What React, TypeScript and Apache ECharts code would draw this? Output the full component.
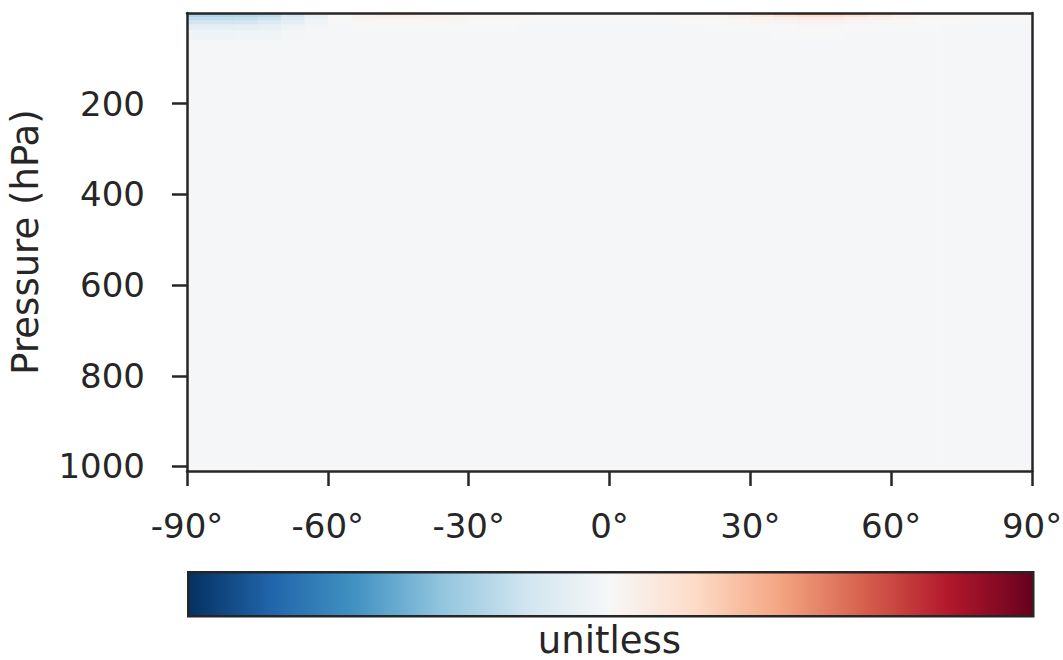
import React, { useEffect, useRef } from "react";
import * as echarts from "echarts";

// ---- data ----
const latEdgesFine = [-90, -85, -80, -75, -70, -65, -60, -55, -50, -45, -40, -35, -30, -25, -20, -15, -10, -5, 0, 5, 10, 15, 20, 25, 30, 35, 40, 45, 50, 55, 60, 65, 70, 75, 80, 85, 90];
const latEdgesCoarse = [-90, -80, -70, -60, -50, -40, -30, -20, -10, 0, 10, 20, 30, 40, 50, 60, 70, 80, 90];

const upperLevelEdges = [0, 4, 9, 16, 25, 38, 60];
const lowerLevelEdges = [60, 150, 300, 500, 650, 800, 900, 1010];

const upperRow0 = [-0.42, -0.42, -0.4, -0.36, -0.26, -0.12, 0.03, 0.1, 0.12, 0.13, 0.11, 0.09, 0.07, 0.05, 0.03, 0.02, 0.02, 0.02, 0.02, 0.02, 0.03, 0.04, 0.06, 0.1, 0.2, 0.36, 0.46, 0.46, 0.38, 0.24, 0.12, 0.07, 0.05, 0.04, 0.04, 0.04];
const upperRow1 = [-0.3, -0.3, -0.29, -0.26, -0.18, -0.08, 0.01, 0.05, 0.06, 0.06, 0.05, 0.04, 0.03, 0.02, 0.01, 0.01, 0.01, 0.01, 0.01, 0.01, 0.01, 0.02, 0.03, 0.05, 0.09, 0.14, 0.18, 0.18, 0.14, 0.09, 0.05, 0.03, 0.02, 0.01, 0.01, 0.01];
const upperRow2 = [-0.25, -0.25, -0.24, -0.21, -0.14, -0.06, 0, 0.03, 0.03, 0.03, 0.03, 0.02, 0.01, 0.01, 0, 0, 0, 0, 0, 0, 0, 0.01, 0.01, 0.02, 0.04, 0.06, 0.07, 0.07, 0.05, 0.04, 0.02, 0.01, 0.01, 0, 0, 0];
const upperRow3 = [-0.19, -0.19, -0.18, -0.15, -0.1, -0.04, -0.01, 0.01, 0.01, 0.01, 0.01, 0.01, 0, 0, 0, 0, 0, 0, 0, 0, 0, 0, 0, 0.01, 0.02, 0.02, 0.03, 0.03, 0.02, 0.01, 0.01, 0, 0, 0, 0, 0];
const upperRow4 = [-0.1, -0.1, -0.09, -0.08, -0.05, -0.02, -0.01, 0, 0, 0, 0, -0.005, -0.005, -0.005, -0.01, -0.01, -0.01, -0.01, -0.01, -0.01, -0.01, -0.01, -0.005, -0.005, 0, 0, 0.005, 0.005, 0, -0.005, -0.005, -0.005, -0.01, -0.01, -0.01, -0.01];
const upperRow5 = [-0.04, -0.04, -0.035, -0.03, -0.02, -0.012, -0.01, -0.008, -0.008, -0.008, -0.008, -0.008, -0.01, -0.01, -0.01, -0.01, -0.01, -0.01, -0.01, -0.01, -0.01, -0.01, -0.01, -0.008, -0.008, -0.005, -0.005, -0.005, -0.008, -0.008, -0.01, -0.01, -0.01, -0.01, -0.01, -0.01];

const lowerRow0 = [-0.012, -0.01, -0.009, -0.008, -0.008, -0.009, -0.009, -0.008, -0.008, -0.008, -0.009, -0.009, -0.01, -0.009, -0.009, -0.01, -0.01, -0.01];
const lowerRow1 = [-0.01, -0.009, -0.009, -0.009, -0.008, -0.009, -0.009, -0.009, -0.008, -0.009, -0.009, -0.009, -0.01, -0.009, -0.01, -0.009, -0.01, -0.01];
const lowerRow2 = [-0.009, -0.009, -0.009, -0.009, -0.009, -0.009, -0.009, -0.009, -0.009, -0.009, -0.009, -0.009, -0.012, -0.009, -0.012, -0.009, -0.01, -0.01];
const lowerRow3 = [-0.009, -0.009, -0.009, -0.009, -0.009, -0.009, -0.008, -0.009, -0.009, -0.009, -0.009, -0.009, -0.01, -0.012, -0.009, -0.012, -0.01, -0.01];
const lowerRow4 = [-0.01, -0.009, -0.009, -0.009, -0.009, -0.009, -0.009, -0.009, -0.008, -0.009, -0.009, -0.009, -0.012, -0.01, -0.009, -0.01, -0.01, -0.01];
const lowerRow5 = [-0.012, -0.009, -0.009, -0.008, -0.008, -0.009, -0.009, -0.009, -0.008, -0.008, -0.009, -0.009, -0.01, -0.01, -0.008, -0.008, -0.009, -0.01];
const lowerRow6 = [-0.012, -0.01, -0.009, -0.009, -0.008, -0.008, -0.009, -0.009, -0.009, -0.008, -0.009, -0.009, -0.009, -0.01, -0.009, -0.009, -0.01, -0.01];

const upperRows = [upperRow0, upperRow1, upperRow2, upperRow3, upperRow4, upperRow5];
const lowerRows = [lowerRow0, lowerRow1, lowerRow2, lowerRow3, lowerRow4, lowerRow5, lowerRow6];

const pressureTicks = [200, 400, 600, 800, 1000];
const colorbarColors = ["#053061", "#2166ac", "#4393c3", "#92c5de", "#d1e5f0", "#f7f7f7", "#fddbc7", "#f4a582", "#d6604d", "#b2182b", "#67001f"];
const vMin = -1;
const vMax = 1;
const yAxisName = "Pressure (hPa)";
const colorbarLabel = "unitless";

function buildCells() {
  const cells: number[][] = [];
  upperRows.forEach((row, r) => {
    row.forEach((v, c) => {
      cells.push([latEdgesFine[c], latEdgesFine[c + 1], upperLevelEdges[r], upperLevelEdges[r + 1], v]);
    });
  });
  lowerRows.forEach((row, r) => {
    row.forEach((v, c) => {
      cells.push([latEdgesCoarse[c], latEdgesCoarse[c + 1], lowerLevelEdges[r], lowerLevelEdges[r + 1], v]);
    });
  });
  return cells;
}

const FONT = "DejaVu Sans";
const INK = "#262626";

export default function App() {
  const ref = useRef<HTMLDivElement>(null);
  useEffect(() => {
    if (!ref.current) return;
    const chart = echarts.init(ref.current, null, { renderer: "svg" });
    const gridLeft = 187, gridRight = 31, gridTop = 13, gridBottom = 189;
    const plotW = 1063 - gridLeft - gridRight;
    chart.setOption({
      animation: false,
      backgroundColor: "#ffffff",
      textStyle: { fontFamily: FONT },
      grid: {
        left: gridLeft,
        right: gridRight,
        top: gridTop,
        bottom: gridBottom,
        containLabel: false,
        outerBoundsMode: "none",
      },
      visualMap: {
        show: false,
        type: "continuous",
        dimension: 4,
        seriesIndex: 0,
        min: vMin,
        max: vMax,
        inRange: { color: colorbarColors },
      },
      xAxis: [
        {
          type: "value",
          min: -90,
          max: 90,
          interval: 30,
          z: 10,
          axisLine: { show: true, onZero: false, lineStyle: { color: INK, width: 2.5 } },
          axisTick: { show: true, length: 15, lineStyle: { color: INK, width: 2.5 } },
          axisLabel: { margin: 38, fontSize: 34, color: INK, fontFamily: FONT, formatter: (v: number) => `${v}°` },
          splitLine: { show: false },
        },
        {
          type: "value",
          position: "top",
          min: -90,
          max: 90,
          z: 10,
          axisLine: { show: true, onZero: false, lineStyle: { color: INK, width: 2.5 } },
          axisTick: { show: false },
          axisLabel: { show: false },
          splitLine: { show: false },
        },
      ],
      yAxis: [
        {
          type: "value",
          inverse: true,
          min: 0,
          max: 1010,
          z: 10,
          name: yAxisName,
          nameLocation: "middle",
          nameGap: 143,
          nameTextStyle: { fontSize: 37, color: INK, fontFamily: FONT },
          axisLine: { show: true, onZero: false, lineStyle: { color: INK, width: 2.5 } },
          axisTick: { show: true, length: 15, customValues: pressureTicks, lineStyle: { color: INK, width: 2.5 } },
          axisLabel: {
            margin: 42,
            fontSize: 34,
            color: INK,
            fontFamily: FONT,
            customValues: pressureTicks,
            formatter: (v: number) => String(v),
          },
          splitLine: { show: false },
        },
        {
          type: "value",
          position: "right",
          inverse: true,
          min: 0,
          max: 1010,
          z: 10,
          axisLine: { show: true, onZero: false, lineStyle: { color: INK, width: 2.5 } },
          axisTick: { show: false },
          axisLabel: { show: false },
          splitLine: { show: false },
        },
      ],
      series: [
        {
          type: "custom",
          xAxisIndex: 0,
          yAxisIndex: 0,
          z: 1,
          dimensions: ["lat0", "lat1", "p0", "p1", "value"],
          encode: { x: [0, 1], y: [2, 3] },
          data: buildCells(),
          renderItem: (params: any, api: any) => {
            const a = api.coord([api.value(0), api.value(2)]);
            const b = api.coord([api.value(1), api.value(3)]);
            return {
              type: "rect",
              shape: {
                x: Math.min(a[0], b[0]),
                y: Math.min(a[1], b[1]),
                width: Math.abs(b[0] - a[0]) + 0.6,
                height: Math.abs(b[1] - a[1]) + 0.6,
              },
              style: { fill: api.visual("color"), stroke: null },
            };
          },
        },
      ],
      graphic: [
        {
          type: "rect",
          left: gridLeft,
          top: 571,
          shape: { x: 0, y: 0, width: plotW, height: 44 },
          style: {
            fill: new echarts.graphic.LinearGradient(
              0, 0, 1, 0,
              colorbarColors.map((c, i) => ({ offset: i / (colorbarColors.length - 1), color: c }))
            ),
            stroke: INK,
            lineWidth: 2.5,
          },
        },
        {
          type: "text",
          x: gridLeft + plotW / 2,
          y: 640,
          style: {
            text: colorbarLabel,
            fontSize: 37,
            fontFamily: FONT,
            fill: INK,
            align: "center",
            verticalAlign: "middle",
          },
        },
      ],
    });
    return () => chart.dispose();
  }, []);
  return (
    <div
      ref={ref}
      style={{ position: "fixed", left: 0, top: 0, width: 1063, height: 660 }}
    />
  );
}
